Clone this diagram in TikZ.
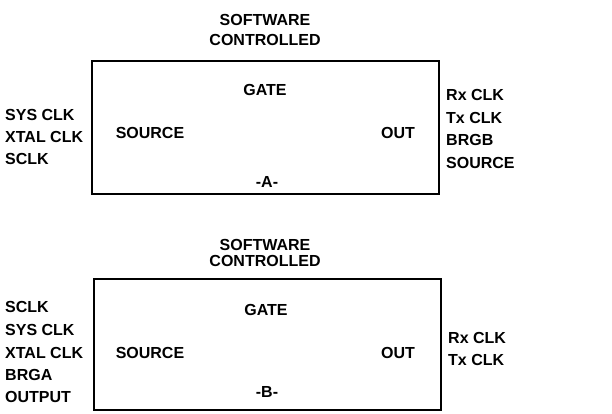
\documentclass[tikz,border=0pt]{standalone}
\usepackage{fontspec}
\setmainfont{Liberation Sans}
\begin{document}
\begin{tikzpicture}[x=1pt,y=-1pt,
  lbl/.style={font=\fontsize{16}{18}\selectfont\bfseries, inner sep=0pt},
]
\useasboundingbox (0,0) rectangle (612,414);
% Box A
\node[draw, line width=1.6pt, inner sep=0pt, minimum width=347pt, minimum height=133pt] (boxA) at (265.5,127.5) {};
\node[lbl] (swA1) at (265,20) {SOFTWARE};
\node[lbl] (swA2) at (265,40) {CONTROLLED};
\node[lbl] (gateA) at (265,90) {GATE};
\node[lbl] (srcA) at (150,133) {SOURCE};
\node[lbl] (outA) at (398,133) {OUT};
\node[lbl] (idA) at (267,182) {-A-};
\node[lbl, anchor=west] (lA1) at (5,115) {SYS CLK};
\node[lbl, anchor=west] (lA2) at (5,137) {XTAL CLK};
\node[lbl, anchor=west] (lA3) at (5,159) {SCLK};
\node[lbl, anchor=west] (rA1) at (446,95) {Rx CLK};
\node[lbl, anchor=west] (rA2) at (446,118) {Tx CLK};
\node[lbl, anchor=west] (rA3) at (446,140) {BRGB};
\node[lbl, anchor=west] (rA4) at (446,163) {SOURCE};
% Box B
\node[draw, line width=1.6pt, inner sep=0pt, minimum width=347pt, minimum height=131pt] (boxB) at (267.5,344.5) {};
\node[lbl] (swB1) at (265,245) {SOFTWARE};
\node[lbl] (swB2) at (265,261) {CONTROLLED};
\node[lbl] (gateB) at (266,310) {GATE};
\node[lbl] (srcB) at (150,353) {SOURCE};
\node[lbl] (outB) at (398,353) {OUT};
\node[lbl] (idB) at (267,392) {-B-};
\node[lbl, anchor=west] (lB1) at (5,307) {SCLK};
\node[lbl, anchor=west] (lB2) at (5,330) {SYS CLK};
\node[lbl, anchor=west] (lB3) at (5,353) {XTAL CLK};
\node[lbl, anchor=west] (lB4) at (5,375) {BRGA};
\node[lbl, anchor=west] (lB5) at (5,397) {OUTPUT};
\node[lbl, anchor=west] (rB1) at (448,338) {Rx CLK};
\node[lbl, anchor=west] (rB2) at (448,360) {Tx CLK};
\end{tikzpicture}
\end{document}
